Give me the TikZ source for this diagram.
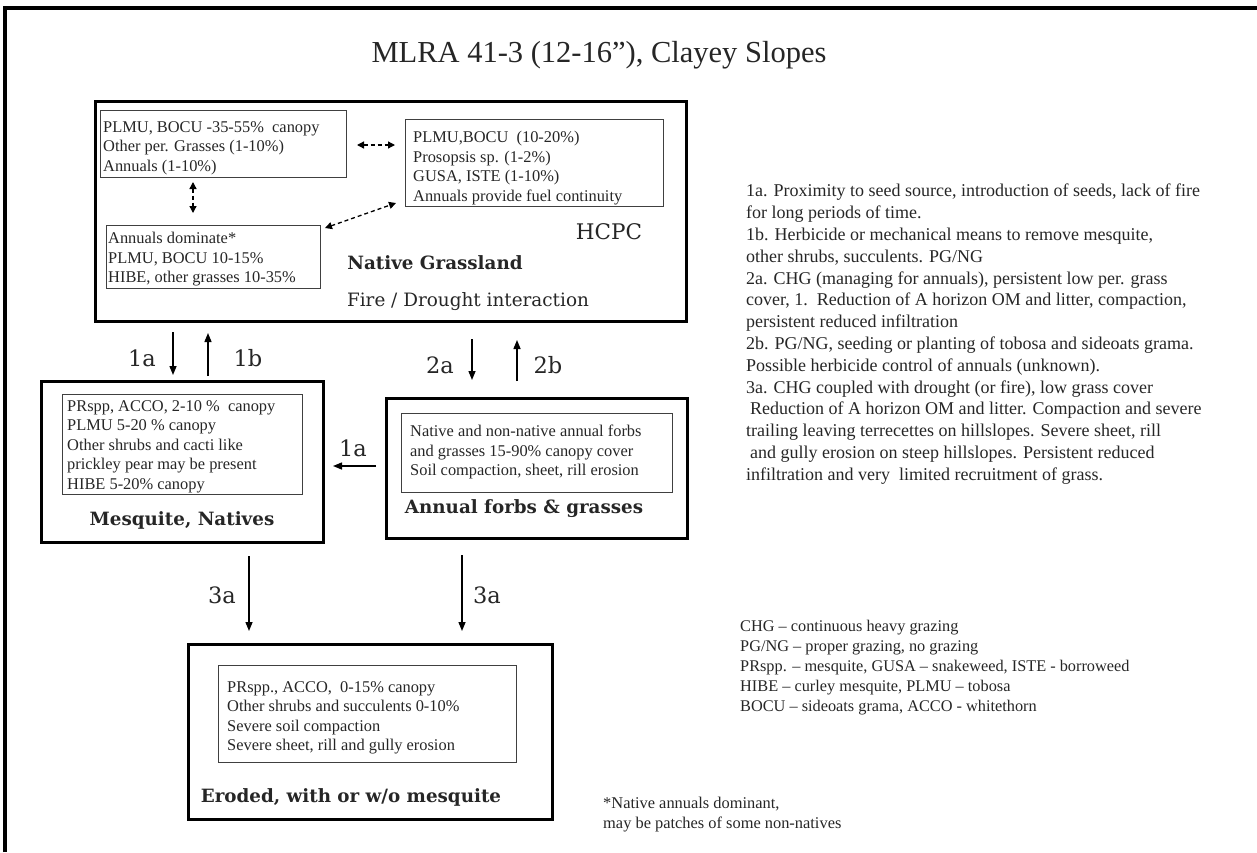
\documentclass[tikz,border=0pt]{standalone}
\usepackage{fontspec}
\setmainfont{Liberation Serif}
\newfontfamily\slab{DejaVu Serif}
\usetikzlibrary{arrows.meta}
\begin{document}
\begin{tikzpicture}[x=1pt,y=-1pt,
  outerbox/.style={draw=black, line width=3pt, inner sep=0pt, anchor=north west},
  innerbox/.style={draw=black!75, line width=1.3pt, inner sep=0pt, anchor=north west},
  boxtext/.style={anchor=north west, inner sep=0pt, align=left, text=black!85, font=\fontsize{16.4}{19.5}\selectfont},
  notetext/.style={anchor=north west, inner sep=0pt, align=left, text=black!85, font=\fontsize{18}{21.8}\selectfont},
  legtext/.style={anchor=north west, inner sep=0pt, align=left, text=black!85, font=\fontsize{16.3}{20}\selectfont},
  statelabel/.style={inner sep=0pt, text=black!85, font=\slab\bfseries\fontsize{18.3}{22}\selectfont},
  plainlabel/.style={inner sep=0pt, text=black!85, font=\slab\fontsize{18.4}{22}\selectfont},
  arrlabel/.style={inner sep=0pt, text=black!85, font=\slab\fontsize{22.5}{26}\selectfont},
  arr/.style={line width=1.4pt, -{Triangle[length=9pt,width=7pt]}},
  darr/.style={line width=1.3pt, dash pattern=on 4pt off 3pt, {Triangle[length=7pt,width=7pt]}-{Triangle[length=7pt,width=7pt]}}
]
\useasboundingbox (0,0) rectangle (1257,852);
% frame
\draw[line width=3.5pt] (5,852) -- (5,8) -- (1257,8);

% title
\node[inner sep=0pt, text=black!85, font=\fontsize{30.5}{34}\selectfont] (title) at (599,55) {MLRA 41-3 (12-16”), Clayey Slopes};

% Native grassland
\node[outerbox, minimum width=591pt, minimum height=220pt] (ng) at (94,100) {};
\node[innerbox, minimum width=246pt, minimum height=67pt] (ngA) at (100,110) {};
\node[innerbox, minimum width=258pt, minimum height=87pt] (ngB) at (405,119) {};
\node[innerbox, minimum width=214pt, minimum height=63pt] (ngC) at (106,225) {};
\node[boxtext] (ngAt) at (103,121) {PLMU, BOCU -35-55\%\ \ canopy\\Other per. Grasses (1-10\%)\\Annuals (1-10\%)};
\node[boxtext] (ngBt) at (413,131) {PLMU,BOCU\ \ (10-20\%)\\Prosopsis sp. (1-2\%)\\GUSA, ISTE (1-10\%)\\Annuals provide fuel continuity};
\node[boxtext] (ngCt) at (108,232) {Annuals dominate*\\PLMU, BOCU 10-15\%\\HIBE, other grasses 10-35\%};
\node[plainlabel, font=\slab\fontsize{21.5}{24}\selectfont] (hcpc) at (609,232) {HCPC};
\node[statelabel] (ngl) at (435,263) {Native Grassland};
\node[plainlabel] (fire) at (468,302) {Fire / Drought interaction};

\coordinate (dA1) at (357,145); \coordinate (dA2) at (395,145);
\coordinate (dB1) at (193,182); \coordinate (dB2) at (193,213);
\coordinate (dC1) at (325,228); \coordinate (dC2) at (396,203);
\draw[darr] (dA1) -- (dA2);
\draw[darr] (dB1) -- (dB2);
\draw[darr] (dC1) -- (dC2);

% Mesquite, Natives
\node[outerbox, minimum width=282pt, minimum height=161pt] (mq) at (40,380) {};
\node[innerbox, minimum width=240pt, minimum height=100pt] (mqi) at (62,394) {};
\node[boxtext] (mqt) at (67,400) {PRspp, ACCO, 2-10 \%\ \ canopy\\PLMU 5-20 \% canopy\\Other shrubs and cacti like\\prickley pear may be present\\HIBE 5-20\% canopy};
\node[statelabel] (mql) at (182,520) {Mesquite, Natives};

% Annual forbs
\node[outerbox, minimum width=301pt, minimum height=140pt] (af) at (385,397) {};
\node[innerbox, minimum width=271pt, minimum height=79pt] (afi) at (401,413) {};
\node[boxtext] (aft) at (410,425) {Native and non-native annual forbs\\and grasses 15-90\% canopy cover\\Soil compaction, sheet, rill erosion};
\node[statelabel] (afl) at (524,509) {Annual forbs \& grasses};

% Eroded
\node[outerbox, minimum width=364pt, minimum height=175pt] (er) at (187,643) {};
\node[innerbox, minimum width=298pt, minimum height=97pt] (eri) at (218,665) {};
\node[boxtext] (ert) at (227,681) {PRspp., ACCO,\ \ 0-15\% canopy\\Other shrubs and succulents 0-10\%\\Severe soil compaction\\Severe sheet, rill and gully erosion};
\node[statelabel] (erl) at (351,797) {Eroded, with or w/o mesquite};

% transitions
\coordinate (t1a1) at (173,332); \coordinate (t1a2) at (173,375);
\coordinate (t1b1) at (208,376); \coordinate (t1b2) at (208,333);
\coordinate (t2a1) at (472,339); \coordinate (t2a2) at (472,380);
\coordinate (t2b1) at (517,381); \coordinate (t2b2) at (517,340);
\coordinate (t1c1) at (376,466); \coordinate (t1c2) at (333,466);
\coordinate (t3a1) at (249,556); \coordinate (t3a2) at (249,631);
\coordinate (t3b1) at (462,555); \coordinate (t3b2) at (462,631);
\draw[arr] (t1a1) -- (t1a2);
\draw[arr] (t1b1) -- (t1b2);
\draw[arr] (t2a1) -- (t2a2);
\draw[arr] (t2b1) -- (t2b2);
\draw[arr] (t1c1) -- (t1c2);
\draw[arr] (t3a1) -- (t3a2);
\draw[arr] (t3b1) -- (t3b2);
\node[arrlabel] (l1a) at (142,358) {1a};
\node[arrlabel] (l1b) at (248,358) {1b};
\node[arrlabel] (l2a) at (440,365) {2a};
\node[arrlabel] (l2b) at (548,365) {2b};
\node[arrlabel] (l1c) at (353,448) {1a};
\node[arrlabel] (l3a) at (222,595) {3a};
\node[arrlabel] (l3b) at (487,595) {3a};

% notes
\node[notetext] (notes) at (746,184) {1a. Proximity to seed source, introduction of seeds, lack of fire\\for long periods of time.\\1b. Herbicide or mechanical means to remove mesquite,\\other shrubs, succulents. PG/NG\\2a. CHG (managing for annuals), persistent low per. grass\\cover, 1.\ \ Reduction of A horizon OM and litter, compaction,\\persistent reduced infiltration\\2b. PG/NG, seeding or planting of tobosa and sideoats grama.\\Possible herbicide control of annuals (unknown).\\3a. CHG coupled with drought (or fire), low grass cover\\\hspace*{4pt}Reduction of A horizon OM and litter. Compaction and severe\\trailing leaving terrecettes on hillslopes. Severe sheet, rill\\\hspace*{4pt}and gully erosion on steep hillslopes. Persistent reduced\\infiltration and very\ \ limited recruitment of grass.};

\node[legtext] (legend) at (740,620) {CHG – continuous heavy grazing\\PG/NG – proper grazing, no grazing\\PRspp. – mesquite, GUSA – snakeweed, ISTE - borroweed\\HIBE – curley mesquite, PLMU – tobosa\\BOCU – sideoats grama, ACCO - whitethorn};

\node[legtext, font=\fontsize{16.4}{20}\selectfont] (foot) at (603,797) {*Native annuals dominant,\\may be patches of some non-natives};
\end{tikzpicture}
\end{document}
